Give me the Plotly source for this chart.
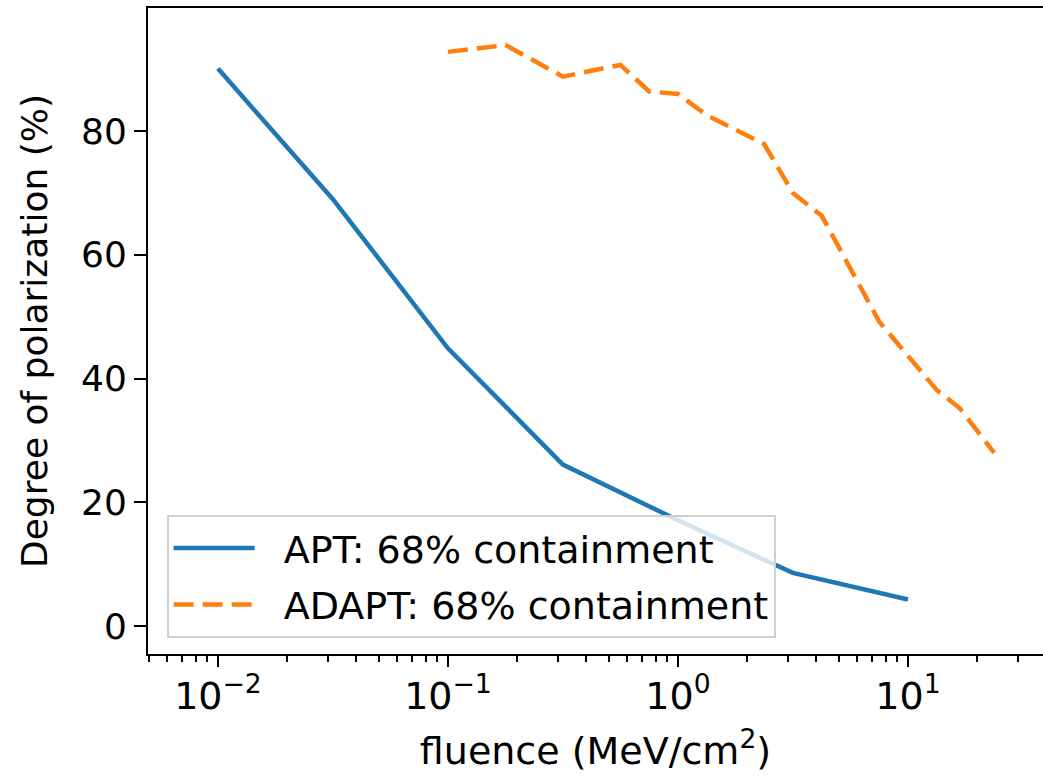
import plotly.graph_objects as go

# APT data
apt_x = [0.01, 0.0316, 0.1, 0.316, 1.0, 3.16, 10.0]
apt_y = [90.1, 69.0, 44.9, 26.1, 17.1, 8.6, 4.3]

# ADAPT data
adapt_x = [0.1, 0.178, 0.316, 0.562, 0.75, 1.0, 1.33, 2.37, 3.16, 4.22, 7.5, 13.3, 16.8, 23.7]
adapt_y = [92.8, 93.9, 88.8, 90.7, 86.4, 86.0, 82.6, 77.9, 70.0, 66.3, 49.2, 38.2, 35.2, 28.0]

names = ["APT: 68% containment", "ADAPT: 68% containment"]
y_ticks = [0, 20, 40, 60, 80]
x_ticks = [0.01, 0.1, 1, 10]
x_ticktext = ["10<sup>\u22122</sup>", "10<sup>\u22121</sup>", "10<sup>0</sup>", "10<sup>1</sup>"]

FONT = "DejaVu Sans"
PAD = "\u00a0\u00a0"

fig = go.Figure()
fig.add_trace(go.Scatter(x=apt_x, y=apt_y, mode="lines", name=PAD + names[0],
                         legendgroup="a",
                         line=dict(color="#1f77b4", width=4.5)))
fig.add_trace(go.Scatter(x=adapt_x, y=adapt_y, mode="lines", name=PAD + names[1],
                         legendgroup="b",
                         line=dict(color="#ff7f0e", width=4.5, dash="20px,9px")))

fig.update_layout(
    width=1043, height=780,
    margin=dict(l=148, r=0, t=8, b=126),
    plot_bgcolor="white", paper_bgcolor="white",
    font=dict(family=FONT, size=36, color="black"),
    showlegend=True,
    legend=dict(x=0.0208, y=0.2155, xanchor="left", yanchor="top",
                bgcolor="rgba(255,255,255,0.8)", bordercolor="#d0d0d0", borderwidth=2,
                font=dict(family=FONT, size=38, color="black"),
                tracegroupgap=4, itemwidth=81),
)

fig.update_xaxes(
    type="log", range=[-2.304, 1.587],
    tickvals=x_ticks, ticktext=x_ticktext,
    showline=True, linecolor="black", linewidth=2, mirror=True,
    ticks="outside", ticklen=11, tickwidth=2, tickcolor="black",
    ticklabelstandoff=-4,
    showgrid=False, zeroline=False,
    minor=dict(ticks="outside", ticklen=6, tickwidth=1.5, tickcolor="black", dtick="D1", showgrid=False),
    tickfont=dict(family=FONT, size=38, color="black"),
    title=dict(text="fluence (MeV/cm<sup>2</sup>)", font=dict(family=FONT, size=38, color="black"), standoff=21),
)
fig.update_yaxes(
    range=[-4.51, 99.89],
    tickvals=y_ticks,
    showline=True, linecolor="black", linewidth=2, mirror=False,
    ticks="outside", ticklen=12, tickwidth=2, tickcolor="black",
    showgrid=False, zeroline=False,
    tickfont=dict(family=FONT, size=36, color="black"),
    title=dict(text="Degree of polarization (%)", font=dict(family=FONT, size=36, color="black"), standoff=22),
)

fig.write_html("out.html")
